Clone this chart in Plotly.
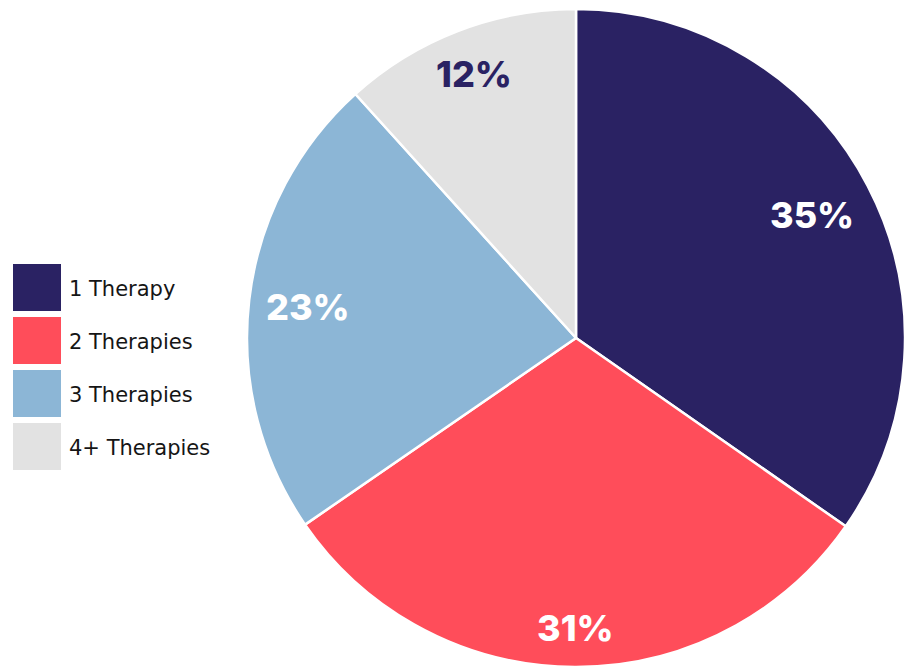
import math
import plotly.graph_objects as go

categories = ["1 Therapy", "2 Therapies", "3 Therapies", "4+ Therapies"]
values = [34.7, 30.7, 22.9, 11.7]
colors = ["#2a2263", "#ff4d5a", "#8cb6d6", "#e2e2e2"]
label_colors = ["white", "white", "white", "#2a2263"]
label_radius = [0.81, 0.88, 0.82, 0.86]

W, H = 905, 668
dom_x = [247 / W, 1.0]
dom_y = [0.0, 1 - 8 / H]

fig = go.Figure(go.Pie(
    labels=categories,
    values=values,
    sort=False,
    direction="clockwise",
    rotation=0,
    marker=dict(colors=colors, line=dict(color="white", width=2.5)),
    textinfo="none",
    hoverinfo="label+percent",
    showlegend=False,
    domain=dict(x=dom_x, y=dom_y),
))

# geometry of the pie in pixels (derived from domain)
dw = (dom_x[1] - dom_x[0]) * W
dh = (dom_y[1] - dom_y[0]) * H
R = min(dw, dh) / 2
cx = dom_x[0] * W + dw / 2
cy = H - (dom_y[0] * H + dh / 2)

total = sum(values)
cum = 0.0
annotations = []
for v, lc, rf in zip(values, label_colors, label_radius):
    mid = (cum + v / 2) / total * 2 * math.pi
    cum += v
    px = cx + rf * R * math.sin(mid)
    py = cy - rf * R * math.cos(mid)
    annotations.append(dict(
        x=px / W, y=1 - py / H, xref="paper", yref="paper",
        text=f"{v / total * 100:.0f}%", showarrow=False,
        font=dict(family="Inter", size=36, color=lc, weight=800),
        xanchor="center", yanchor="middle",
    ))

# custom legend with large squares
shapes = []
sq_top0, sq_h, sq_gap = 264, 47, 6
for i, (cat, col) in enumerate(zip(categories, colors)):
    top = sq_top0 + i * (sq_h + sq_gap)
    shapes.append(dict(type="rect", xref="paper", yref="paper",
                       x0=13 / W, x1=61 / W, y0=1 - (top + sq_h) / H, y1=1 - top / H,
                       fillcolor=col, line=dict(width=0)))
    annotations.append(dict(
        x=67 / W, y=1 - (top + sq_h / 2 + 1) / H, xref="paper", yref="paper",
        text=cat, showarrow=False, xanchor="left", yanchor="middle",
        font=dict(family="DejaVu Sans", size=21, color="#151515"),
    ))

fig.update_layout(
    width=W, height=H,
    margin=dict(l=0, r=0, t=0, b=0),
    paper_bgcolor="white", plot_bgcolor="white",
    annotations=annotations, shapes=shapes,
)

fig.write_html("out.html")
